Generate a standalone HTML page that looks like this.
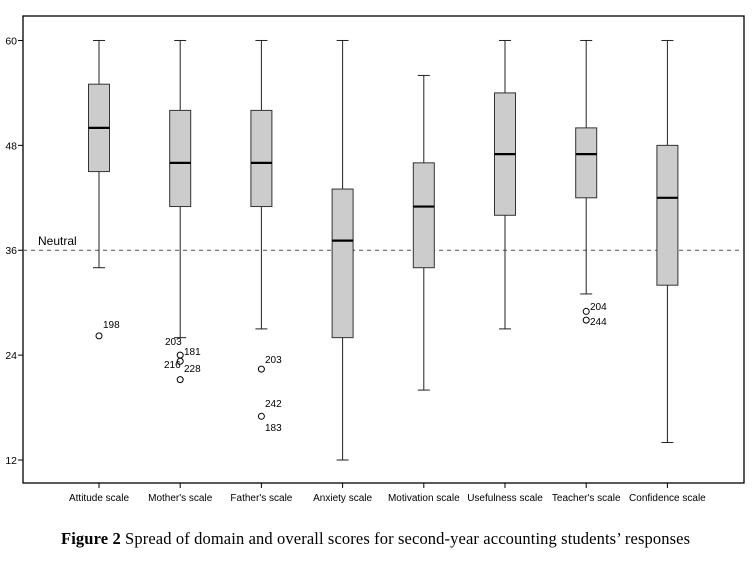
<!DOCTYPE html>
<html><head><meta charset="utf-8">
<style>
html,body{margin:0;padding:0;background:#fff;}
svg{display:block;}
text{font-family:"Liberation Sans",Arial,sans-serif;}
</style></head>
<body>
<svg id="chart" width="753" height="561" xmlns="http://www.w3.org/2000/svg"></svg>
<script>
const categories=["Attitude scale","Mother's scale","Father's scale","Anxiety scale","Motivation scale","Usefulness scale","Teacher's scale","Confidence scale"];
const whiskerLow=[34,26,27,12,20,27,31,14];
const q1=[45,41,41,26,34,40,42,32];
const medians=[50,46,46,37.1,41,47,47,42];
const q3=[55,52,52,43,46,54,50,48];
const whiskerHigh=[60,60,60,60,56,60,60,60];
const outlierCat=[0,1,1,1,2,2,6,6];
const outlierVal=[26.2,24,23.3,21.2,22.4,17,29,28];
const yTicks=[12,24,36,48,60];
const neutralValue=36;

const svg=document.getElementById('chart');
const NS='http://www.w3.org/2000/svg';
function el(tag,attrs,parent){const e=document.createElementNS(NS,tag);for(const k in attrs)e.setAttribute(k,attrs[k]);(parent||svg).appendChild(e);return e;}
const L=23,R=744,T=16,B=483;
function y(v){return 460-(v-12)*8.74;}
function x(i){return 99+i*81.2;}

const frame=el('rect',{x:L,y:T,width:R-L,height:B-T,fill:'none',stroke:'#000','stroke-width':1.3});



yTicks.forEach(t=>{
  const ln=el('line',{x1:L-5,x2:L,y1:y(t),y2:y(t),stroke:'#000'});
  
  
  const tx=el('text',{x:L-6,y:y(t)+4,'text-anchor':'end','font-size':10.5,fill:'#000'});
  tx.textContent=t;
  
  
});

const nl=el('line',{x1:L,x2:R,y1:y(neutralValue),y2:y(neutralValue),stroke:'#555','stroke-dasharray':'4,4','stroke-width':1});


const nt=el('text',{x:38,y:y(neutralValue)-5,'font-size':12,fill:'#000'});
nt.textContent='Neutral';



categories.forEach((c,i)=>{
  const cx=x(i),hw=10.5;
  const g=el('g',{});
  
  
  el('line',{x1:cx,x2:cx,y1:y(whiskerHigh[i]),y2:y(q3[i]),stroke:'#222'},g);
  el('line',{x1:cx,x2:cx,y1:y(q1[i]),y2:y(whiskerLow[i]),stroke:'#222'},g);
  el('line',{x1:cx-6,x2:cx+6,y1:y(whiskerHigh[i]),y2:y(whiskerHigh[i]),stroke:'#222'},g);
  el('line',{x1:cx-6,x2:cx+6,y1:y(whiskerLow[i]),y2:y(whiskerLow[i]),stroke:'#222'},g);
  el('rect',{x:cx-hw,y:y(q3[i]),width:hw*2,height:y(q1[i])-y(q3[i]),fill:'#cccccc',stroke:'#333','stroke-width':1},g);
  el('line',{x1:cx-hw,x2:cx+hw,y1:y(medians[i]),y2:y(medians[i]),stroke:'#000','stroke-width':2.2},g);
  el('line',{x1:cx,x2:cx,y1:B,y2:B+5,stroke:'#000'});
  const lb=el('text',{x:cx,y:501,'text-anchor':'middle','font-size':10,fill:'#000'});
  lb.textContent=c;
  
  
});

outlierVal.forEach((v,k)=>{
  const o=el('circle',{cx:x(outlierCat[k]),cy:y(v),r:3,fill:'none',stroke:'#000','stroke-width':1});
  
  
});
const outLabels=[["198",103,328],["203",165,345],["181",184,355],["216",164,368],["228",184,372],["203",265,363],["242",265,407],["183",265,431],["204",590,310],["244",590,325]];
outLabels.forEach(l=>{
  const t=el('text',{x:l[1],y:l[2],'font-size':10,fill:'#000'});
  t.textContent=l[0];
  
  
});

const cap=el('text',{x:61,y:544,'font-size':16.5,fill:'#000',textLength:629,lengthAdjust:'spacing'});
cap.setAttribute('style','font-family:"Liberation Serif",serif');


const b=document.createElementNS(NS,'tspan');b.setAttribute('font-weight','bold');b.textContent='Figure 2';cap.appendChild(b);
const r=document.createElementNS(NS,'tspan');r.textContent=' Spread of domain and overall scores for second-year accounting students’ responses';cap.appendChild(r);
</script>
</body></html>
